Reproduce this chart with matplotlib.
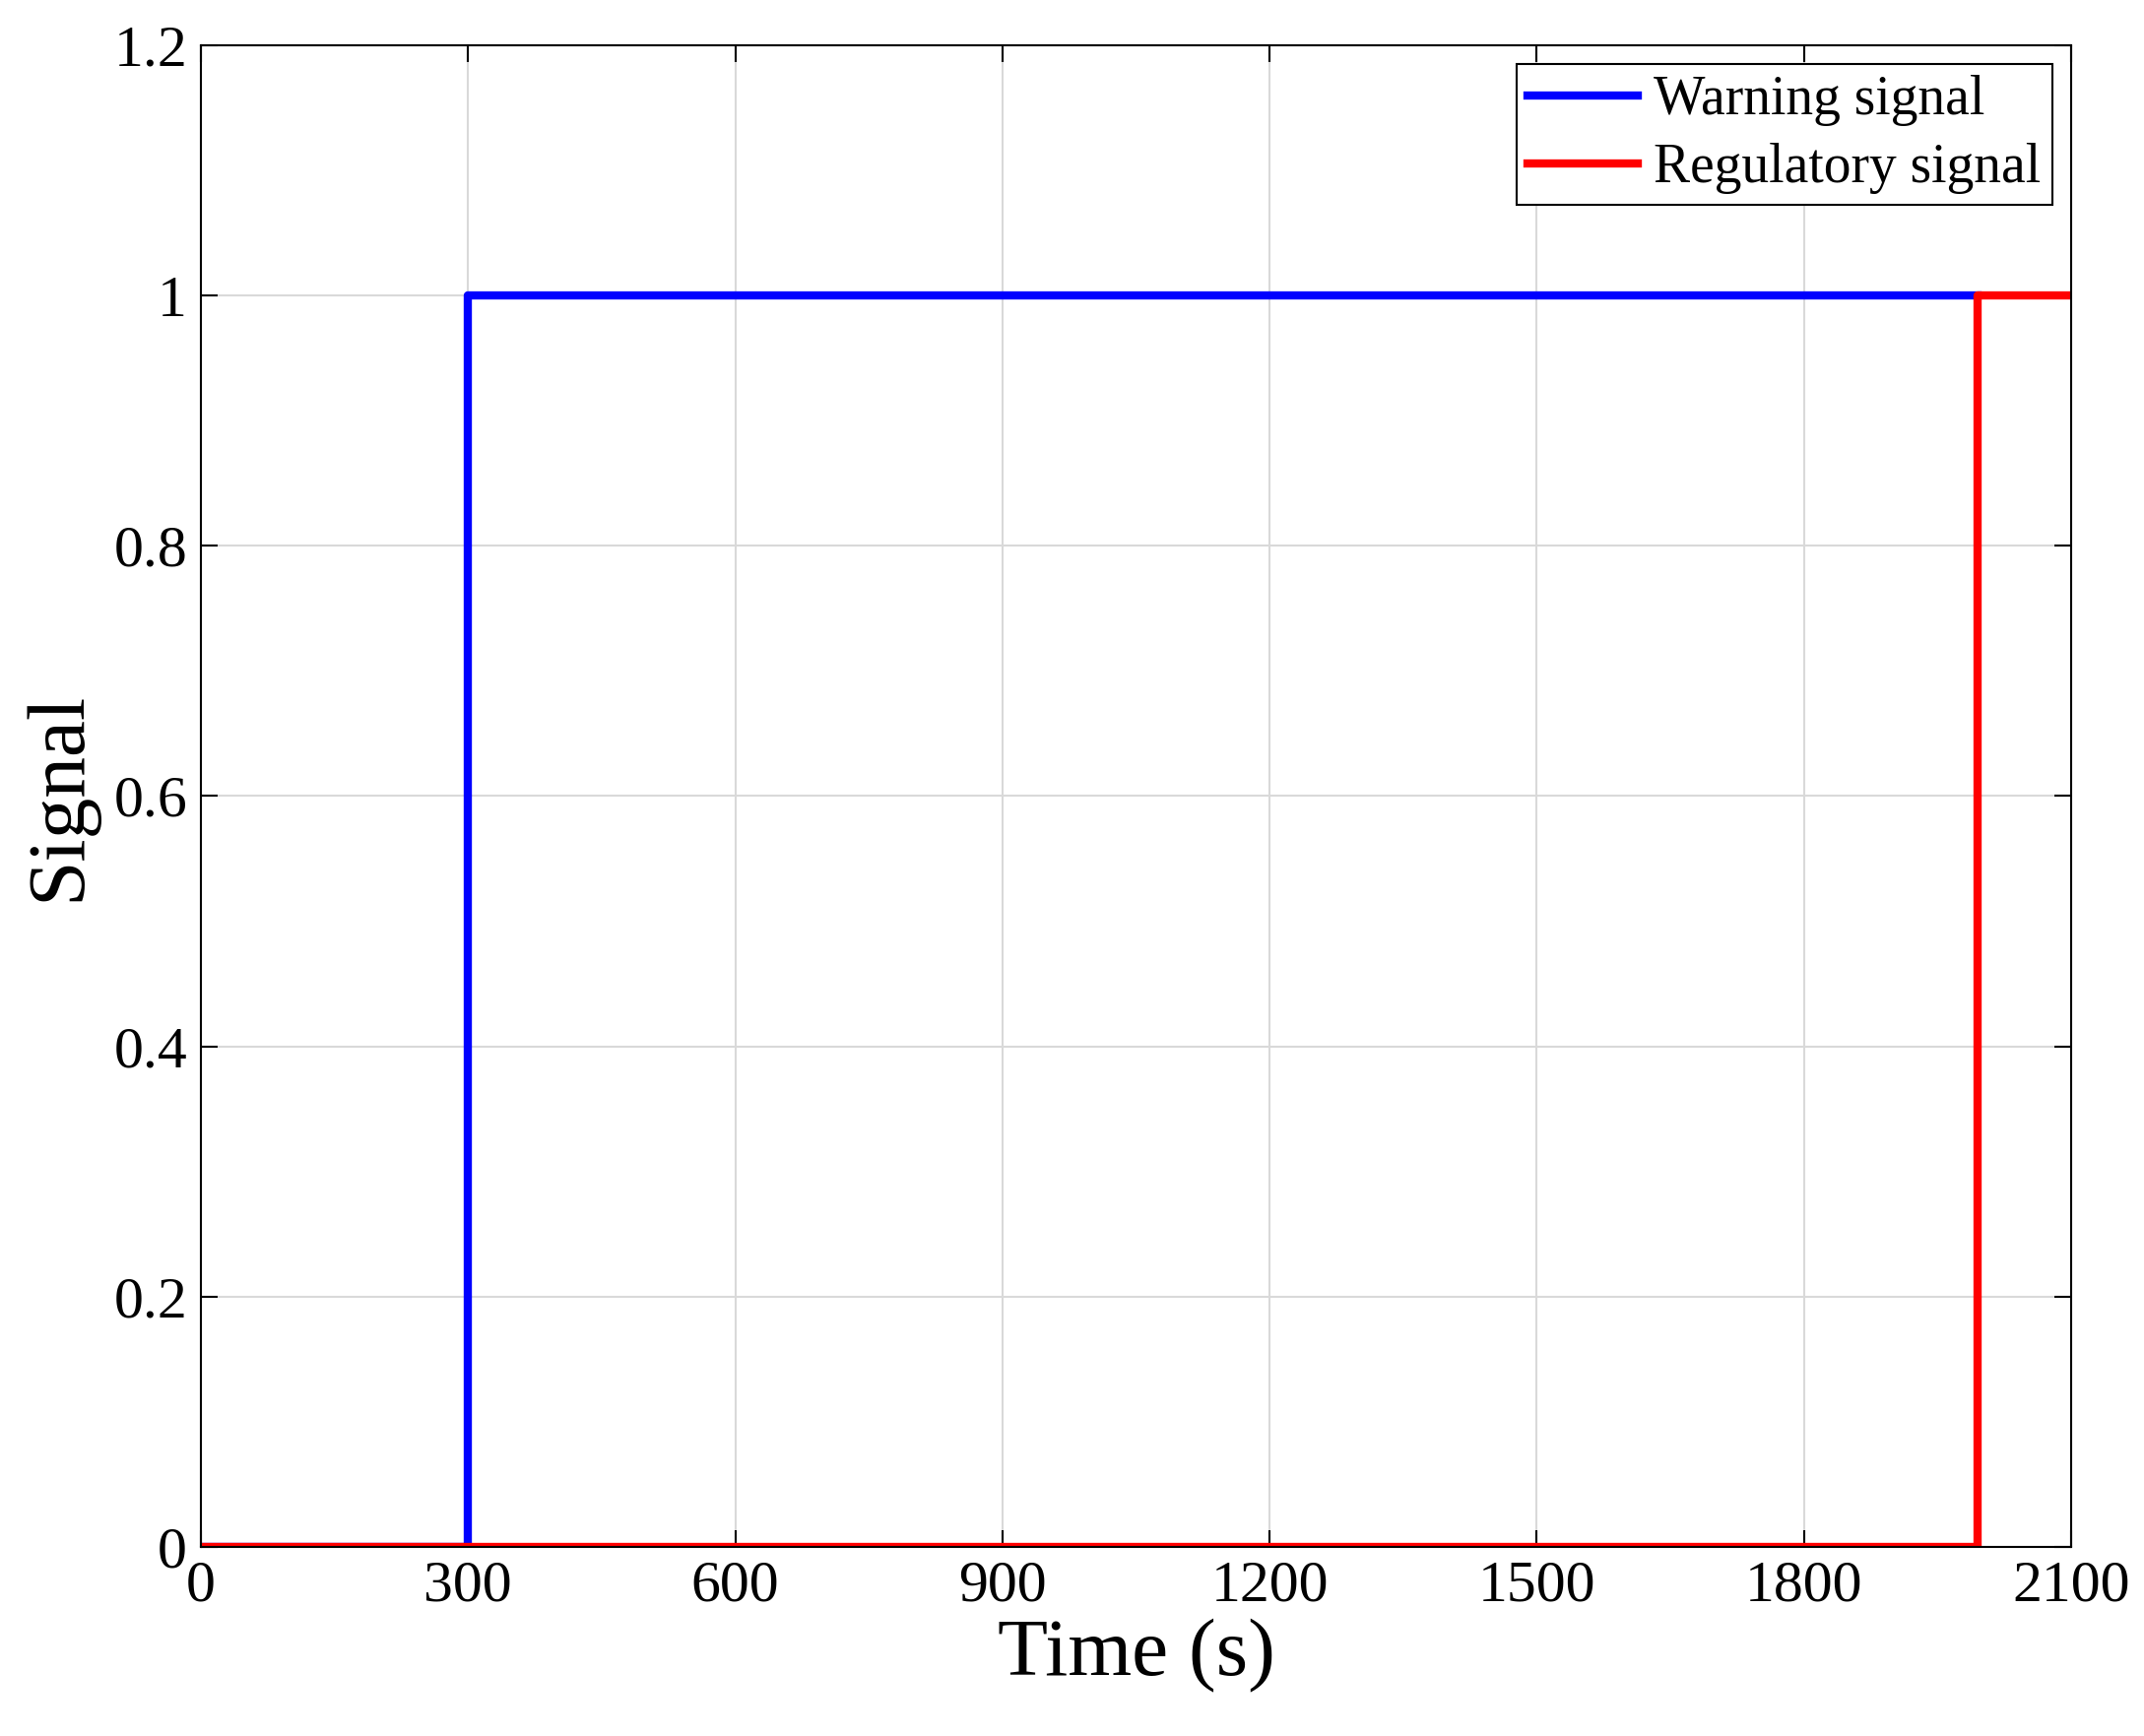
import matplotlib
matplotlib.use("Agg")
import matplotlib.pyplot as plt

warn_t = [0, 300, 300, 1995]
warn_v = [0, 0, 1, 1]
reg_t = [0, 1995, 1995, 2100]
reg_v = [0, 0, 1, 1]
xticks = [0, 300, 600, 900, 1200, 1500, 1800, 2100]
yticks = [0, 0.2, 0.4, 0.6, 0.8, 1, 1.2]
ylabels = ["0", "0.2", "0.4", "0.6", "0.8", "1", "1.2"]

plt.rcParams['font.family'] = ['Liberation Serif', 'DejaVu Serif']
fig = plt.figure(figsize=(21.77, 17.63), dpi=100)
ax = fig.add_axes([0.0937, 0.109, 0.8723, 0.865])
ax.plot(warn_t, warn_v, color='#0000ff', lw=6, label='Warning signal')
ax.plot(reg_t, reg_v, color='#ff0000', lw=6, label='Regulatory signal')
ax.set_xlim(0, 2100)
ax.set_ylim(0, 1.2)
ax.set_xticks(xticks)
ax.set_yticks(yticks)
ax.set_yticklabels(ylabels)
ax.tick_params(labelsize=43, direction='in', length=12, width=1.5, top=True, right=True, pad=10)
ax.grid(True, color='#d9d9d9', lw=1.5)
for s in ax.spines.values():
    s.set_linewidth(1.5)
ax.set_xlabel('Time (s)', fontsize=60, labelpad=4)
ax.set_ylabel('Signal', fontsize=60, labelpad=12)
leg = ax.legend(loc='upper right', fontsize=40, fancybox=False, edgecolor='black',
                borderaxespad=0.35, handlelength=2.0, handletextpad=0.3,
                borderpad=0.2, labelspacing=0.3, framealpha=1)
leg.get_frame().set_linewidth(1.5)
fig.savefig('out.png', dpi=100)
